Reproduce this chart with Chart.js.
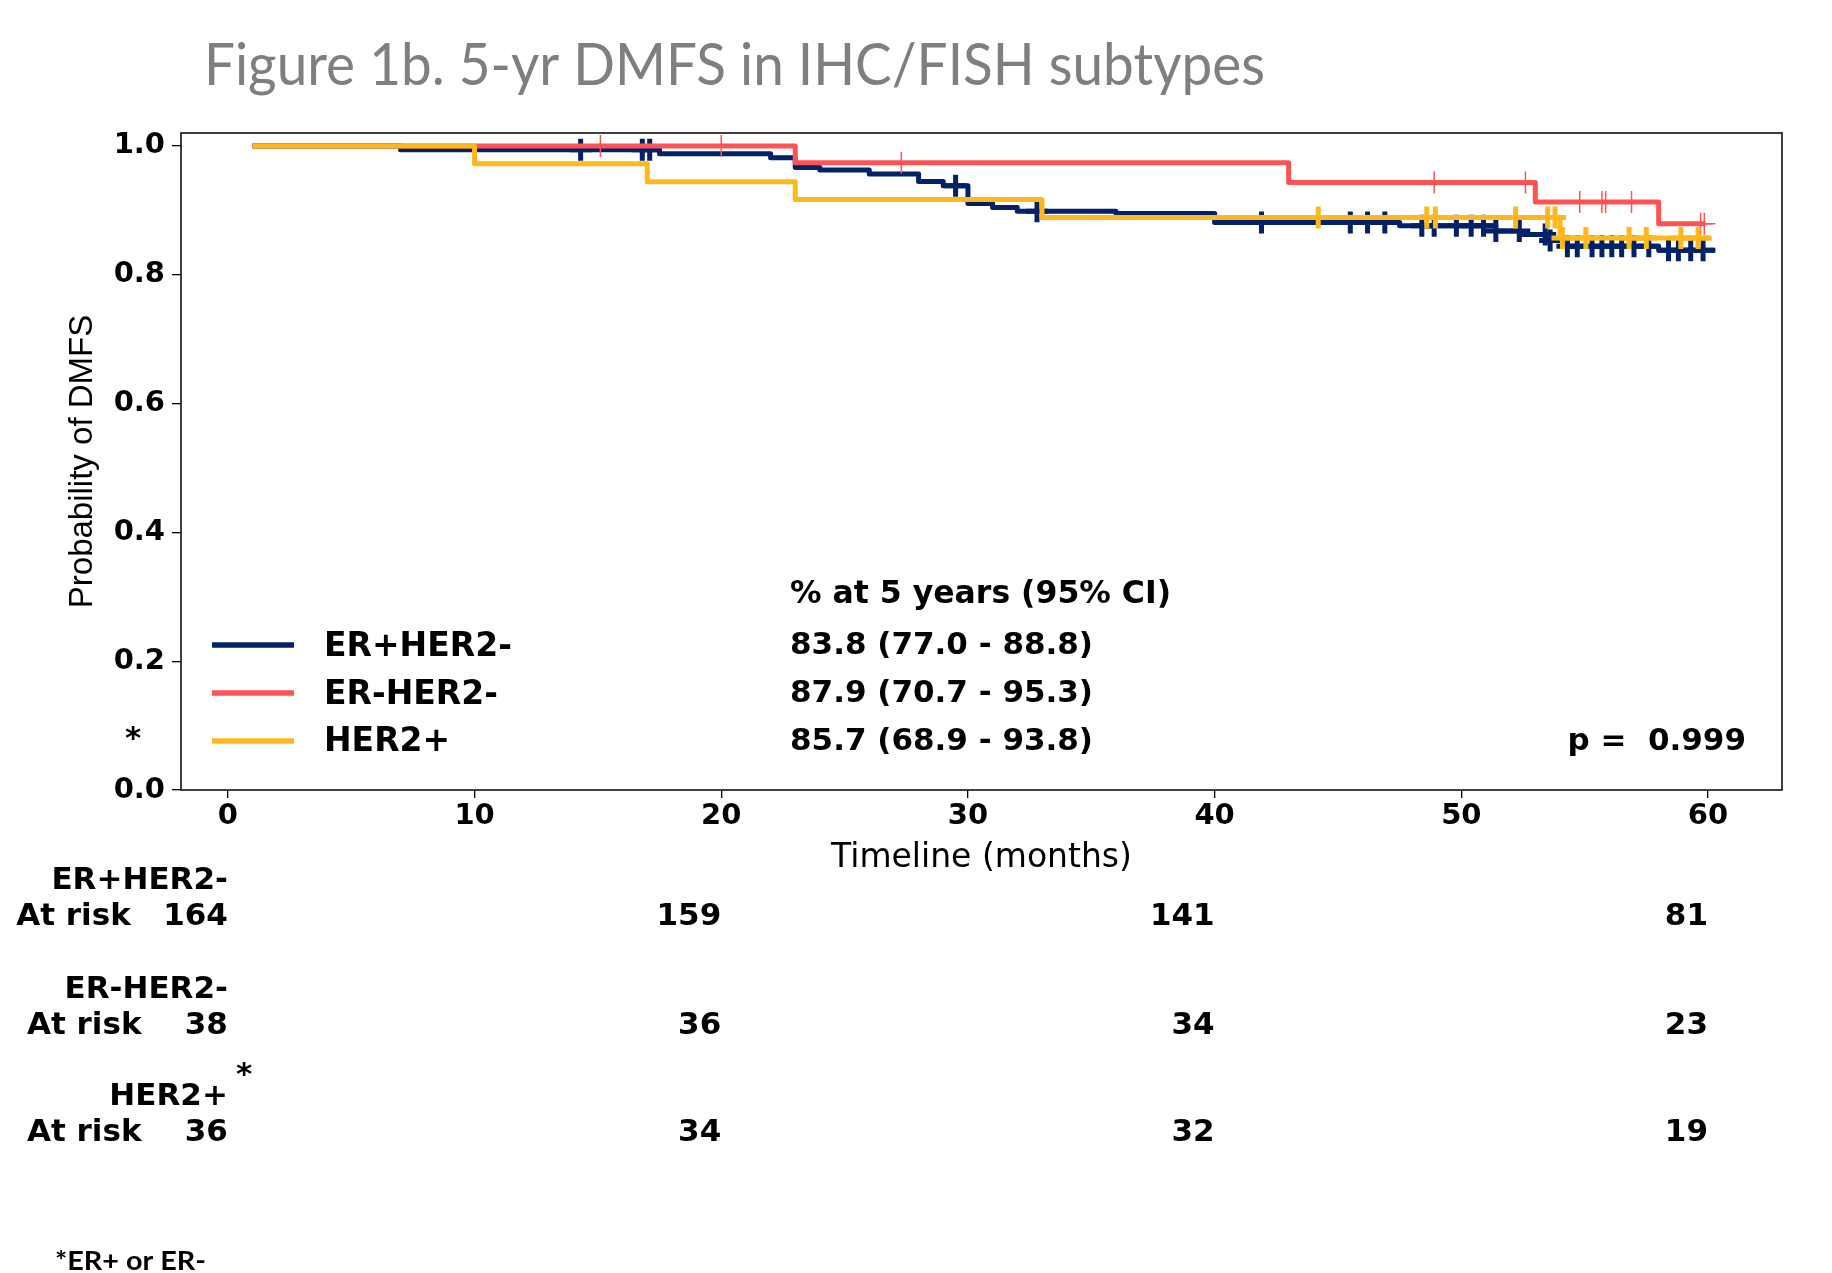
<!DOCTYPE html>
<html>
<head>
<meta charset="utf-8">
<script src="https://cdn.jsdelivr.net/npm/chart.js@4.4.1/dist/chart.umd.min.js"></script>
<style>
html,body{margin:0;padding:0;background:#fff;}
#wrap{width:1832px;height:1273px;position:relative;}
canvas{display:block;}
</style>
</head>
<body>
<div id="wrap"><canvas id="c" width="1832" height="1273"></canvas></div>
<script>
// ---------------- DATA ----------------
const chartTitle = 'Figure 1b. 5-yr DMFS in IHC/FISH subtypes';
const xAxisTitle = 'Timeline (months)';
const yAxisTitle = 'Probability of DMFS';
const groupNames = ['ER+HER2-', 'ER-HER2-', 'HER2+'];
const groupColors = ['#012169', '#FF5353', '#FFB81C'];
const ciHeader = '% at 5 years (95% CI)';
const fiveYearText = ['83.8 (77.0 - 88.8)', '87.9 (70.7 - 95.3)', '85.7 (68.9 - 93.8)'];
const pValueText = 'p =  0.999';
const footnoteText = '*ER+ or ER-';

// Kaplan-Meier steps (time in months, survival after the step)
const erPosTimes = [1, 7, 17.5, 22, 23, 24, 26, 28, 29, 30, 31, 32, 36, 40, 47.5, 51.4, 52.4, 53.6, 54.3, 58, 60.3];
const erPosSurv  = [1, 0.9939, 0.9878, 0.9817, 0.9665, 0.9625, 0.9562, 0.9447, 0.938, 0.9106, 0.9044, 0.8985, 0.895, 0.881, 0.876, 0.868, 0.8625, 0.853, 0.844, 0.838, 0.838];
const erPosCensor = [14.3, 16.8, 17.1, 29.5, 32.8, 41.9, 45.5, 46.2, 46.9, 48.4, 48.9, 49.8, 50.4, 50.9, 51.4, 52.35, 53.4, 53.6, 54.3, 54.7, 55.3, 55.7, 56.1, 56.5, 57.0, 57.6, 58.4, 58.8, 59.3, 59.8];

const erNegTimes = [1, 23, 43, 53, 58, 59.9];
const erNegSurv  = [1, 0.9737, 0.9433, 0.913, 0.879, 0.879];
const erNegCensor = [15.1, 20.0, 27.3, 48.9, 52.6, 54.8, 55.7, 55.85, 56.9, 59.7, 59.85];

const her2Times = [1, 10, 17, 23, 33, 54, 60.15];
const her2Surv  = [1, 0.9722, 0.9444, 0.9167, 0.8889, 0.857, 0.857];
const her2Censor = [44.2, 48.6, 48.95, 52.2, 53.5, 53.8, 54.1, 55.05, 56.8, 57.5, 58.9, 59.6];

// Number at risk table
const riskTimes = [0, 20, 40, 60];
const riskERpos = [164, 159, 141, 81];
const riskERneg = [38, 36, 34, 23];
const riskHER2  = [36, 34, 32, 19];

// ---------------- HELPERS ----------------
function survAt(times, surv, t) {
  let v = surv[0];
  for (let i = 0; i < times.length; i++) { if (times[i] <= t + 1e-9) v = surv[i]; }
  return v;
}
function curve(times, surv) { return times.map((t, i) => ({x: t, y: surv[i]})); }
function marks(times, surv, cens) { return cens.map(t => ({x: t, y: survAt(times, surv, t)})); }

const lineStyle = (label, data, color, order) => ({
  type: 'scatter', label, data, showLine: true, stepped: 'before',
  borderColor: color, backgroundColor: color, borderWidth: 5,
  borderJoinStyle: 'round', borderCapStyle: 'butt',
  pointRadius: 0, pointHoverRadius: 0, fill: false, order, clip: false
});
const censorStyle = (label, data, color, w, order) => ({
  type: 'scatter', label, data, showLine: false,
  pointStyle: 'cross', pointRadius: 11, pointHoverRadius: 11,
  pointBorderColor: color, pointBackgroundColor: color, pointBorderWidth: w,
  borderColor: color, order, clip: false
});

const FONT_B = 'DejaVu Sans';

const overlay = {
  id: 'overlay',
  afterDraw(chart) {
    const ctx = chart.ctx;
    const a = chart.chartArea;
    const xs = chart.scales.x;
    ctx.save();
    // frame
    ctx.strokeStyle = '#111';
    ctx.lineWidth = 1.6;
    ctx.strokeRect(a.left, a.top, a.right - a.left, a.bottom - a.top);

    // title (grey, fitted)
    ctx.fillStyle = '#7F7F7F';
    ctx.font = '58px Lato';
    ctx.textBaseline = 'alphabetic';
    ctx.textAlign = 'left';
    let w = ctx.measureText(chartTitle).width;
    ctx.save();
    ctx.translate(204, 85);
    ctx.scale(1061 / w, 1);
    ctx.fillText(chartTitle, 0, 0);
    ctx.restore();

    // legend
    const legY = [645, 693, 741];
    const legTextY = [647, 695, 742];
    groupNames.forEach((g, i) => {
      ctx.strokeStyle = groupColors[i];
      ctx.lineWidth = 5.5;
      ctx.lineCap = 'butt';
      ctx.beginPath(); ctx.moveTo(212, legY[i]); ctx.lineTo(294, legY[i]); ctx.stroke();
      ctx.fillStyle = '#000';
      ctx.font = 'bold 33px ' + FONT_B;
      ctx.textBaseline = 'middle';
      ctx.textAlign = 'left';
      ctx.fillText(g, 324, legTextY[i]);
    });
    // annotation column
    ctx.font = 'bold 31.5px ' + FONT_B;
    ctx.fillText(ciHeader, 790, 595);
    ctx.font = 'bold 31px ' + FONT_B;
    const valY = [646, 694, 742];
    fiveYearText.forEach((s, i) => ctx.fillText(s, 790, valY[i]));
    ctx.textAlign = 'right';
    ctx.fillText(pValueText, 1746, 742);
    // asterisk left of legend
    ctx.textAlign = 'center';
    ctx.textBaseline = 'alphabetic';
    ctx.font = 'bold 31px ' + FONT_B;
    ctx.fillText('*', 133, 748);

    // at-risk table
    const x0 = xs.getPixelForValue(riskTimes[0]);
    const rows = [
      {name: groupNames[0], vals: riskERpos, yName: 881, yRow: 917},
      {name: groupNames[1], vals: riskERneg, yName: 990, yRow: 1026},
      {name: groupNames[2], vals: riskHER2,  yName: 1097, yRow: 1133}
    ];
    ctx.font = 'bold 31px ' + FONT_B;
    ctx.textBaseline = 'middle';
    rows.forEach((r) => {
      ctx.textAlign = 'right';
      ctx.fillText(r.name, x0, r.yName);
      r.vals.forEach((v, i) => {
        const px = xs.getPixelForValue(riskTimes[i]);
        const s = i === 0 ? 'At risk' + String(v).padStart(6, ' ') : String(v);
        ctx.fillText(s, px, r.yRow);
      });
    });
    // superscript asterisk on HER2+
    ctx.textAlign = 'center';
    ctx.textBaseline = 'alphabetic';
    ctx.fillText('*', 244, 1084);

    // footnote
    ctx.font = 'bold 26px Lato';
    ctx.textAlign = 'left';
    w = ctx.measureText(footnoteText).width;
    ctx.save();
    ctx.translate(55, 1270);
    ctx.scale(151 / w, 1);
    ctx.fillText(footnoteText, 0, 0);
    ctx.restore();

    ctx.restore();
  }
};

const tickFont = {family: FONT_B, weight: 'bold', size: 29};

new Chart(document.getElementById('c'), {
  type: 'scatter',
  data: {
    datasets: [
      lineStyle(groupNames[0], curve(erPosTimes, erPosSurv), groupColors[0], 6),
      censorStyle(groupNames[0] + ' censored', marks(erPosTimes, erPosSurv, erPosCensor), groupColors[0], 5, 5),
      lineStyle(groupNames[1], curve(erNegTimes, erNegSurv), groupColors[1], 4),
      censorStyle(groupNames[1] + ' censored', marks(erNegTimes, erNegSurv, erNegCensor), groupColors[1], 1.5, 3),
      lineStyle(groupNames[2], curve(her2Times, her2Surv), groupColors[2], 2),
      censorStyle(groupNames[2] + ' censored', marks(her2Times, her2Surv, her2Censor), groupColors[2], 5, 1)
    ]
  },
  options: {
    responsive: false,
    animation: false,
    devicePixelRatio: 1,
    events: [],
    layout: {padding: {left: 0, right: 50, top: 133, bottom: 0}},
    plugins: {legend: {display: false}, tooltip: {enabled: false}, title: {display: false}},
    scales: {
      x: {
        type: 'linear', min: -1.9, max: 63,
        ticks: {stepSize: 10, includeBounds: false, font: tickFont, color: '#000', padding: 1, maxRotation: 0, autoSkip: false},
        grid: {drawOnChartArea: false, drawTicks: true, tickLength: 8, color: '#000', lineWidth: 1.3},
        border: {display: false},
        title: {display: true, text: xAxisTitle, color: '#000', font: {family: FONT_B, size: 33, weight: 'normal'}, padding: {top: 0, bottom: 395}},
        afterFit: s => { s.height = 483; s.paddingLeft = 0; s.paddingRight = 0; }
      },
      y: {
        type: 'linear', min: 0, max: 1.02,
        ticks: {stepSize: 0.2, includeBounds: false, font: tickFont, color: '#000', padding: 7, callback: v => Number(v).toFixed(1)},
        grid: {drawOnChartArea: false, drawTicks: true, tickLength: 9, color: '#000', lineWidth: 1.3},
        border: {display: false},
        title: {display: true, text: yAxisTitle, color: '#000', font: {family: 'Liberation Sans', size: 33, weight: 'normal'}, padding: {top: 63, bottom: 0}},
        afterFit: s => { s.width = 181; s.paddingTop = 0; s.paddingBottom = 0; }
      }
    }
  },
  plugins: [overlay]
});
</script>
</body>
</html>
